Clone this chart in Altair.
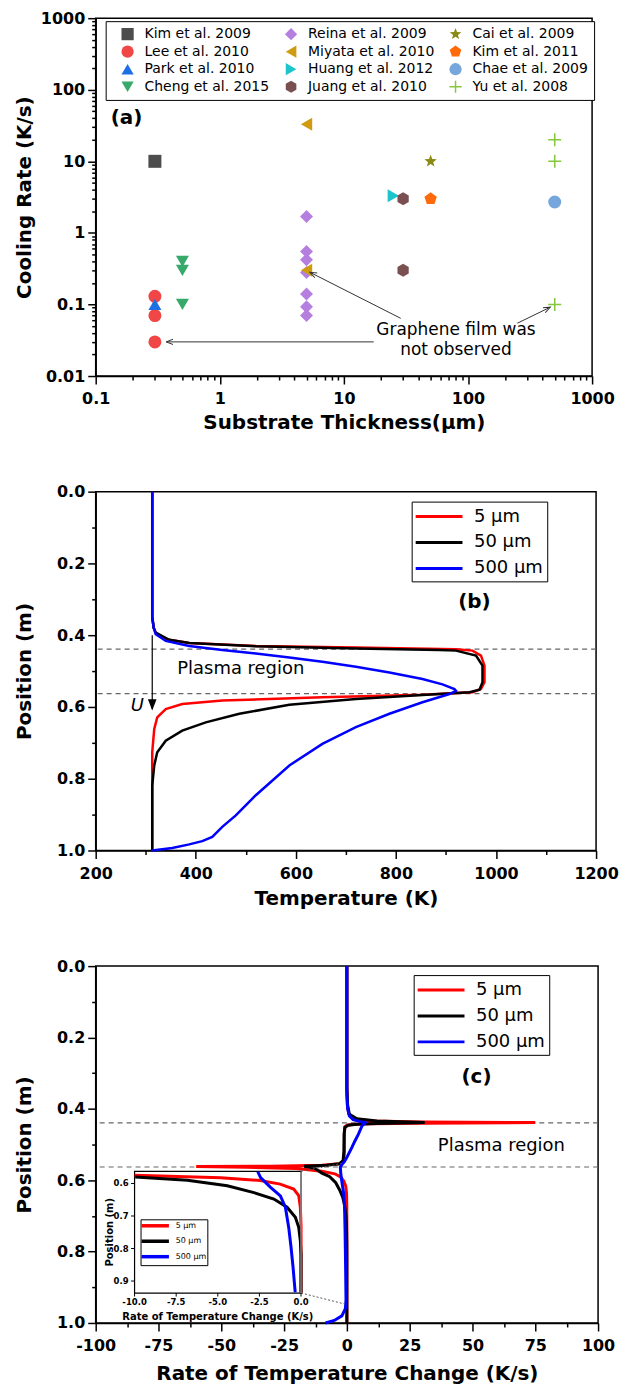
import math
import altair as alt
import pandas as pd

FONT = "DejaVu Sans"
FS = "\u2007"   # figure space (digit width) to right-align legend labels
NB = "\u00a0"   # no-break space (half a digit width in DejaVu Sans)

# ===================== Panel (a) data =====================
study_names = ["Kim et al. 2009", "Lee et al. 2010", "Park et al. 2010", "Cheng et al. 2015",
               "Reina et al. 2009", "Miyata et al. 2010", "Huang et al. 2012", "Juang et al. 2010",
               "Cai et al. 2009", "Kim et al. 2011", "Chae et al. 2009", "Yu et al. 2008"]
study_thickness = [[0.3], [0.3, 0.3, 0.3], [0.3], [0.5, 0.5, 0.5],
                   [5, 5, 5, 5, 5, 5, 5], [5, 5], [25], [30, 30],
                   [50], [50], [500], [500, 500, 500]]
study_rate = [[10], [0.13, 0.07, 0.03], [0.1], [0.4, 0.3, 0.1],
              [1.7, 0.55, 0.42, 0.28, 0.14, 0.093, 0.07], [33, 0.3], [3.3], [3.0, 0.3],
              [10], [3.0], [2.7], [20, 10, 0.1]]
study_colors = ["#4d4d4d", "#f04646", "#1f6fe5", "#36a96b", "#b57fe0", "#cf9b10",
                "#1cc5cc", "#7a4f50", "#8a8a14", "#ff6a0a", "#75a6dc", "#86c83c"]


def poly_path(n, r_out, r_in=None, rot=-90):
    pts = []
    k = n * 2 if r_in else n
    for i in range(k):
        r = r_out if (r_in is None or i % 2 == 0) else r_in
        a = math.radians(rot + 360.0 * i / k)
        pts.append(f"{r * math.cos(a):.3f},{r * math.sin(a):.3f}")
    return "M" + "L".join(pts) + "Z"


STAR = poly_path(5, 1.0, 0.42)
PENTAGON = poly_path(5, 1.0)
HEXAGON = poly_path(6, 1.0)
PLUS = "M-1,-0.12L1,-0.12L1,0.12L-1,0.12Z M-0.12,-1L0.12,-1L0.12,1L-0.12,1Z"
study_shapes = ["square", "circle", "triangle-up", "triangle-down", "diamond", "triangle-left",
                "triangle-right", HEXAGON, STAR, PENTAGON, "circle", PLUS]

note_text = ["Graphene film was", "not observed"]
note_x = [80, 80]
note_y = [0.044, 0.0232]
arrow_x0 = [17.4, 28.7, 250]
arrow_y0 = [0.03, 0.064, 0.0547]
arrow_x1 = [0.37, 5.33, 460]
arrow_y1 = [0.03, 0.281, 0.0915]
arrow_angle = [270, 297, 64]

# ===================== Panel (b) data =====================
series = [FS + FS + "5 μm", FS + "50 μm", "500 μm"]
series_inset = [NB * 4 + "5 μm", NB * 2 + "50 μm", "500 μm"]
series_colors = ["#ff0000", "#000000", "#0000ff"]

b_red_T = [313, 313, 316, 320, 340, 387, 520, 720, 920, 953, 970, 977, 977, 970, 953, 853, 653,
           453, 373, 340, 323, 317, 313, 313]
b_red_pos = [0.0, 0.35, 0.38, 0.393, 0.411, 0.422, 0.43, 0.434, 0.439, 0.443, 0.457, 0.485, 0.531,
             0.55, 0.559, 0.566, 0.573, 0.582, 0.592, 0.606, 0.629, 0.661, 0.726, 1.0]
b_black_T = [313, 313, 316, 320, 347, 387, 520, 720, 887, 920, 960, 973, 973, 967, 947, 853, 720,
             587, 487, 420, 373, 340, 323, 317, 313, 313]
b_black_pos = [0.0, 0.35, 0.38, 0.393, 0.413, 0.422, 0.431, 0.437, 0.441, 0.443, 0.457, 0.485,
               0.531, 0.552, 0.559, 0.567, 0.578, 0.594, 0.619, 0.643, 0.666, 0.694, 0.726, 0.763,
               0.819, 1.0]
b_blue_T = [313, 313, 316, 320, 340, 387, 453, 520, 587, 653, 720, 787, 853, 893, 917, 920, 907,
            853, 787, 720, 653, 587, 520, 480, 453, 433, 413, 387, 353, 313]
b_blue_pos = [0.0, 0.35, 0.38, 0.397, 0.416, 0.43, 0.441, 0.451, 0.462, 0.474, 0.488, 0.504, 0.522,
              0.537, 0.55, 0.555, 0.564, 0.587, 0.619, 0.656, 0.703, 0.763, 0.846, 0.902, 0.934,
              0.962, 0.974, 0.983, 0.993, 1.0]

plasma_bounds = [0.439, 0.563]

# ===================== Panel (c) data =====================
c_red_rate = [0, 0, 0.2, 0.8, 3, 10, 30, 75, 30, 8, 2, 0, -0.8, -1, -1, -1.2, -3, -10, -30, -60,
              -40, -20, -10, -4.83, -2.45, -1.25, -0.44, -0.14, -0.04, 0, 0, 0, 0]
c_red_pos = [0.0, 0.34, 0.39, 0.415, 0.428, 0.434, 0.437, 0.4385, 0.44, 0.442, 0.444, 0.446, 0.45,
             0.47, 0.52, 0.545, 0.554, 0.558, 0.5605, 0.5615, 0.5635, 0.567, 0.575, 0.582, 0.591,
             0.602, 0.617, 0.637, 0.673, 0.73, 0.9, 0.936, 1.0]
c_black_rate = [0, 0, 0.3, 1, 4, 12, 31, 12, 4, 0.5, -0.8, -1.1, -1.2, -1.5, -3, -8, -17, -13,
                -9.96, -6.83, -4.43, -2.83, -1.63, -0.84, -0.34, -0.14, -0.04, 0, 0, 0, 0]
c_black_pos = [0.0, 0.34, 0.39, 0.415, 0.428, 0.434, 0.438, 0.441, 0.443, 0.446, 0.452, 0.47,
               0.52, 0.545, 0.554, 0.558, 0.561, 0.566, 0.58, 0.59, 0.607, 0.628, 0.648, 0.673,
               0.704, 0.735, 0.776, 0.82, 0.9, 0.936, 1.0]
c_blue_rate = [0, 0, 0.3, 1, 2.5, 5, 7.3, 6, 4.6, 3.2, 2.0, 1, 0, -1, -2, -2.6, -2.43, -1.83,
               -1.24, -0.94, -0.74, -0.6, -0.48, -0.35, -0.6, -2, -5, -8.5]
c_blue_pos = [0.0, 0.36, 0.4, 0.42, 0.43, 0.435, 0.4385, 0.448, 0.471, 0.49, 0.508, 0.522, 0.536,
              0.548, 0.556, 0.5635, 0.582, 0.612, 0.638, 0.673, 0.735, 0.796, 0.857, 0.935, 0.96,
              0.98, 0.993, 1.0]

inset_xlim = [-10, 0]
inset_ylim = [0.563, 0.937]
inset_xticks = [-10, -7.5, -5, -2.5, 0]
inset_xtick_labels = ["-10.0", "-7.5", "-5.0", "-2.5", "0.0"]
inset_yticks = [0.6, 0.7, 0.8, 0.9]
inset_ytick_labels = ["0.6", "0.7", "0.8", "0.9"]

# connector lines between inset and main plot (main coordinates)
conn_x0 = [-18.25, -18.25]
conn_y0 = [0.916, 0.575]
conn_x1 = [-0.8, -2.0]
conn_y1 = [0.947, 0.553]

# ===================== Layout constants =====================
W_A, H_A = 498, 359
W_B, H_B = 502, 360
W_C, H_C = 504, 358
INSET_PX = (137 - 98, 304 - 98, 1174 - 968, 1296 - 968)  # x0, x1, y0, y1 inside panel (c)
MAJOR_TICK, MINOR_TICK = 8, 4
YTITLE_X = -71
LINE_SYMBOL = "M-2.5,0L2.5,0"
LINE_SYMBOL_SMALL = "M-4,0L4,0"


def minor_axis(orient, values):
    return alt.Axis(orient=orient, values=values, labels=False, domain=False, title=None,
                    tickSize=MINOR_TICK, grid=False)


# ===================== Panel (a) =====================
rows = []
for name, ts, rs in zip(study_names, study_thickness, study_rate):
    for t, r in zip(ts, rs):
        rows.append({"study": name, "thickness": t, "rate": r})
df_a = pd.DataFrame(rows)


def log_minor(e0, e1):
    return [round(k * 10 ** e, 6) for e in range(e0, e1) for k in range(2, 10)]


sx_a = alt.Scale(type="log", domain=[0.1, 1000], nice=False)
sy_a = alt.Scale(type="log", domain=[0.01, 1000], nice=False)
axis_xa = alt.Axis(orient="bottom", values=[0.1, 1, 10, 100, 1000], format="~g",
                   tickSize=MAJOR_TICK, labelFlush=False, labelOverlap=False,
                   title="Substrate Thickness(μm)", titleY=47, titleBaseline="middle")
axis_ya = alt.Axis(orient="left", values=[0.01, 0.1, 1, 10, 100, 1000], format="~g",
                   tickSize=MAJOR_TICK, labelFlush=False, labelOverlap=False,
                   title="Cooling Rate (K/s)", titleX=YTITLE_X, titleY=H_A / 2,
                   titleBaseline="middle")

legend_a = alt.Legend(title=None, orient="none", legendX=10, legendY=3, columns=3,
                      strokeColor="black", fillColor="white", padding=6,
                      labelFont=FONT, labelFontSize=14, labelColor="black",
                      symbolOffset=9, labelOffset=10,
                      symbolSize=150, rowPadding=3.6, columnPadding=5, labelLimit=300)

points_a = alt.Chart(df_a).mark_point(filled=True, size=170, opacity=1).encode(
    x=alt.X("thickness:Q", scale=sx_a, axis=axis_xa),
    y=alt.Y("rate:Q", scale=sy_a, axis=axis_ya),
    color=alt.Color("study:N", scale=alt.Scale(domain=study_names, range=study_colors), legend=legend_a),
    shape=alt.Shape("study:N", scale=alt.Scale(domain=study_names, range=study_shapes), legend=legend_a),
)
minor_a = alt.Chart(df_a).mark_point(opacity=0).encode(
    x=alt.X("thickness:Q", scale=sx_a, axis=minor_axis("bottom", log_minor(-1, 3))),
    y=alt.Y("rate:Q", scale=sy_a, axis=minor_axis("left", log_minor(-2, 3))))

df_arrow = pd.DataFrame({"x0": arrow_x0, "y0": arrow_y0, "x1": arrow_x1, "y1": arrow_y1,
                         "ang": arrow_angle})
arrow_lines = alt.Chart(df_arrow).mark_rule(color="#333333", strokeWidth=1).encode(
    x=alt.X("x0:Q", scale=sx_a, axis=None), y=alt.Y("y0:Q", scale=sy_a, axis=None),
    x2="x1:Q", y2="y1:Q")
arrow_heads = alt.Chart(df_arrow).mark_point(
    shape="M-0.5,1.3L0,0L0.5,1.3", filled=False, size=110, color="#333333", strokeWidth=1,
    opacity=1).encode(
    x=alt.X("x1:Q", scale=sx_a, axis=None), y=alt.Y("y1:Q", scale=sy_a, axis=None),
    angle=alt.Angle("ang:Q", scale=None))

df_note = pd.DataFrame({"x": note_x, "y": note_y, "t": note_text})
notes_a = alt.Chart(df_note).mark_text(fontSize=17, color="black").encode(
    x=alt.X("x:Q", scale=sx_a, axis=None), y=alt.Y("y:Q", scale=sy_a, axis=None), text="t:N")

label_a = alt.Chart(pd.DataFrame({"x": [0.177], "y": [40], "t": ["(a)"]})).mark_text(
    fontSize=20, fontWeight="bold", color="black").encode(
    x=alt.X("x:Q", scale=sx_a, axis=None), y=alt.Y("y:Q", scale=sy_a, axis=None), text="t:N")

panel_a = alt.layer(points_a, minor_a, arrow_lines, arrow_heads, notes_a, label_a).resolve_axis(
    x="independent", y="independent").properties(width=W_A, height=H_A)


# ===================== Panel (b) =====================
def series_df(xs, ys, name, xname, field="series"):
    return pd.DataFrame({xname: xs, "pos": ys, field: name, "idx": list(range(len(xs)))})


def line_legend(x, y):
    return alt.Legend(title=None, orient="none", legendX=x, legendY=y, strokeColor="black",
                      fillColor="white", padding=4, symbolType=LINE_SYMBOL, symbolSize=353,
                      symbolStrokeWidth=3, symbolOffset=12.5, labelOffset=24,
                      labelFont=FONT, labelFontSize=18, labelColor="black", rowPadding=6)


sx_b = alt.Scale(domain=[200, 1200], nice=False)
sy_b = alt.Scale(domain=[0, 1], reverse=True, nice=False)
axis_xb = alt.Axis(orient="bottom", values=list(range(200, 1201, 200)), format="d",
                   tickSize=MAJOR_TICK, labelFlush=False, labelOverlap=False,
                   title="Temperature (K)", titleY=48, titleBaseline="middle")
axis_yb = alt.Axis(orient="left", values=[i / 10 for i in range(0, 11, 2)], format=".1f",
                   tickSize=MAJOR_TICK, labelFlush=False, labelOverlap=False,
                   title="Position (m)", titleX=YTITLE_X, titleY=H_B / 2, titleBaseline="middle")

color_b = alt.Color("series:N", scale=alt.Scale(domain=series, range=series_colors),
                    legend=line_legend(317, 10))

df_plasma = pd.DataFrame({"pos": plasma_bounds})
dash_b = alt.Chart(df_plasma).mark_rule(strokeDash=[5, 4], color="#666666", strokeWidth=1.2).encode(
    y=alt.Y("pos:Q", scale=sy_b, axis=axis_yb))

df_b_red = series_df(b_red_T, b_red_pos, series[0], "T")
lines_b = []
for xs, ys, name in [(b_red_T, b_red_pos, series[0]), (b_black_T, b_black_pos, series[1]),
                     (b_blue_T, b_blue_pos, series[2])]:
    lines_b.append(alt.Chart(series_df(xs, ys, name, "T")).mark_line(strokeWidth=2.5).encode(
        x=alt.X("T:Q", scale=sx_b, axis=axis_xb if name == series[0] else None),
        y=alt.Y("pos:Q", scale=sy_b, axis=None),
        order="idx:Q", color=color_b))
minor_b = alt.Chart(df_b_red).mark_point(opacity=0).encode(
    x=alt.X("T:Q", scale=sx_b, axis=minor_axis("bottom", list(range(300, 1200, 200)))),
    y=alt.Y("pos:Q", scale=sy_b, axis=minor_axis("left", [i / 10 for i in range(1, 10, 2)])))

u_arrow = alt.Chart(pd.DataFrame({"T": [313], "p0": [0.40], "p1": [0.606]})).mark_rule(
    color="black", strokeWidth=1.2).encode(
    x=alt.X("T:Q", scale=sx_b, axis=None), y=alt.Y("p0:Q", scale=sy_b, axis=None), y2="p1:Q")
u_head = alt.Chart(pd.DataFrame({"T": [313], "p": [0.610]})).mark_point(
    shape="M-0.5,-1.3L0,0L0.5,-1.3Z", filled=True, size=300, color="black", opacity=1).encode(
    x=alt.X("T:Q", scale=sx_b, axis=None), y=alt.Y("p:Q", scale=sy_b, axis=None))
u_text = alt.Chart(pd.DataFrame({"T": [283], "p": [0.598], "t": ["U"]})).mark_text(
    fontSize=18, fontStyle="italic", color="black").encode(
    x=alt.X("T:Q", scale=sx_b, axis=None), y=alt.Y("p:Q", scale=sy_b, axis=None), text="t:N")
text_b = alt.Chart(pd.DataFrame({"T": [490], "p": [0.494], "t": ["Plasma region"]})).mark_text(
    fontSize=18, color="black").encode(
    x=alt.X("T:Q", scale=sx_b, axis=None), y=alt.Y("p:Q", scale=sy_b, axis=None), text="t:N")
label_b = alt.Chart(pd.DataFrame({"T": [957], "p": [0.308], "t": ["(b)"]})).mark_text(
    fontSize=20, fontWeight="bold", color="black").encode(
    x=alt.X("T:Q", scale=sx_b, axis=None), y=alt.Y("p:Q", scale=sy_b, axis=None), text="t:N")

panel_b = alt.layer(dash_b, *lines_b, minor_b, u_arrow, u_head, u_text, text_b, label_b
                    ).resolve_axis(x="independent", y="independent").properties(
    width=W_B, height=H_B)

# ===================== Panel (c) =====================
sx_c = alt.Scale(domain=[-100, 100], nice=False)
sy_c = alt.Scale(domain=[0, 1], reverse=True, nice=False)
axis_xc = alt.Axis(orient="bottom", values=list(range(-100, 101, 25)), format="d",
                   labelExpr="replace(datum.label, '\u2212', '-')",
                   tickSize=MAJOR_TICK, labelFlush=False, labelOverlap=False,
                   title="Rate of Temperature Change (K/s)", titleY=51, titleBaseline="middle")
axis_yc = alt.Axis(orient="left", values=[i / 10 for i in range(0, 11, 2)], format=".1f",
                   tickSize=MAJOR_TICK, labelFlush=False, labelOverlap=False,
                   title="Position (m)", titleX=YTITLE_X, titleY=H_C / 2, titleBaseline="middle")

color_c = alt.Color("series:N", scale=alt.Scale(domain=series, range=series_colors),
                    legend=line_legend(319, 9))

dash_c = alt.Chart(df_plasma).mark_rule(strokeDash=[5, 4], color="#666666", strokeWidth=1.2).encode(
    y=alt.Y("pos:Q", scale=sy_c, axis=axis_yc))

c_series = [(c_red_rate, c_red_pos, 0), (c_black_rate, c_black_pos, 1),
            (c_blue_rate, c_blue_pos, 2)]
lines_c = []
for xs, ys, k in c_series:
    lines_c.append(alt.Chart(series_df(xs, ys, series[k], "rate")).mark_line(strokeWidth=3).encode(
        x=alt.X("rate:Q", scale=sx_c, axis=axis_xc if k == 0 else None),
        y=alt.Y("pos:Q", scale=sy_c, axis=None),
        order="idx:Q", color=color_c))
minor_c = alt.Chart(series_df(c_red_rate, c_red_pos, series[0], "rate")).mark_point(opacity=0).encode(
    x=alt.X("rate:Q", scale=sx_c, axis=minor_axis("bottom", [-87.5 + 25 * i for i in range(8)])),
    y=alt.Y("pos:Q", scale=sy_c, axis=minor_axis("left", [i / 10 for i in range(1, 10, 2)])))

df_conn = pd.DataFrame({"x0": conn_x0, "y0": conn_y0, "x1": conn_x1, "y1": conn_y1})
conn_c = alt.Chart(df_conn).mark_rule(strokeDash=[2, 2], color="#555555", strokeWidth=1).encode(
    x=alt.X("x0:Q", scale=sx_c, axis=None), y=alt.Y("y0:Q", scale=sy_c, axis=None),
    x2="x1:Q", y2="y1:Q")

text_c = alt.Chart(pd.DataFrame({"x": [61.5], "p": [0.503], "t": ["Plasma region"]})).mark_text(
    fontSize=18, color="black").encode(
    x=alt.X("x:Q", scale=sx_c, axis=None), y=alt.Y("p:Q", scale=sy_c, axis=None), text="t:N")
label_c = alt.Chart(pd.DataFrame({"x": [51.6], "p": [0.31], "t": ["(c)"]})).mark_text(
    fontSize=20, fontWeight="bold", color="black").encode(
    x=alt.X("x:Q", scale=sx_c, axis=None), y=alt.Y("p:Q", scale=sy_c, axis=None), text="t:N")

main_c = alt.layer(dash_c, *lines_c, minor_c, conn_c, text_c, label_c).resolve_axis(
    x="independent", y="independent")

# ---- inset (its own scales, mapped onto the inset box) ----
ix0, ix1, iy0, iy1 = INSET_PX
ppx = (ix1 - ix0) / (inset_xlim[1] - inset_xlim[0])
xd0 = inset_xlim[0] - ix0 / ppx
xd1 = xd0 + W_C / ppx
ppy = (iy1 - iy0) / (inset_ylim[1] - inset_ylim[0])
yd0 = inset_ylim[0] - iy0 / ppy
yd1 = yd0 + H_C / ppy
sx_i = alt.Scale(domain=[xd0, xd1], nice=False, zero=False)
sy_i = alt.Scale(domain=[yd0, yd1], reverse=True, nice=False, zero=False)


def ix(field):
    return alt.X(field, scale=sx_i, axis=None)


def iy(field):
    return alt.Y(field, scale=sy_i, axis=None)


frame_i = alt.Chart(pd.DataFrame({"x0": [inset_xlim[0]], "x1": [inset_xlim[1]],
                                  "y0": [inset_ylim[0]], "y1": [inset_ylim[1]]})).mark_rect(
    fill="white", stroke="black", strokeWidth=1.2).encode(
    x=ix("x0:Q"), x2="x1:Q", y=iy("y0:Q"), y2="y1:Q")
edge_i = alt.Chart(pd.DataFrame({"x": [inset_xlim[1]], "y0": [inset_ylim[0]],
                                 "y1": [inset_ylim[1]]})).mark_rule(
    color="#888888", strokeWidth=1.5).encode(x=ix("x:Q"), y=iy("y0:Q"), y2="y1:Q")

df_ixt = pd.DataFrame({"v": inset_xticks, "lab": inset_xtick_labels, "b": inset_ylim[1]})
df_iyt = pd.DataFrame({"v": inset_yticks, "lab": inset_ytick_labels, "b": inset_xlim[0]})
xticks_i = alt.Chart(df_ixt).mark_point(shape="M0,0L0,1", filled=False, size=49, strokeWidth=1,
                                        color="black", opacity=1).encode(x=ix("v:Q"), y=iy("b:Q"))
xlabels_i = alt.Chart(df_ixt).mark_text(fontSize=8.5, fontWeight="bold", baseline="top", dy=5,
                                        color="black").encode(x=ix("v:Q"), y=iy("b:Q"), text="lab:N")
yticks_i = alt.Chart(df_iyt).mark_point(shape="M-1,0L0,0", filled=False, size=49, strokeWidth=1,
                                        color="black", opacity=1).encode(x=ix("b:Q"), y=iy("v:Q"))
ylabels_i = alt.Chart(df_iyt).mark_text(fontSize=8.5, fontWeight="bold", align="right",
                                        baseline="middle", dx=-6, color="black").encode(
    x=ix("b:Q"), y=iy("v:Q"), text="lab:N")

legend_i = alt.Legend(title=None, orient="none", legendX=45, legendY=254, strokeColor="black",
                      fillColor="white", padding=1, symbolType=LINE_SYMBOL_SMALL, symbolSize=47,
                      symbolStrokeWidth=3.5, symbolOffset=8.25, labelOffset=15,
                      labelFont=FONT, labelFontSize=8, labelColor="black", rowPadding=0.5)
stroke_i = alt.Stroke("series_i:N", scale=alt.Scale(domain=series_inset, range=series_colors),
                      legend=legend_i)
lines_i = []
for xs, ys, k in c_series:
    lines_i.append(alt.Chart(series_df(xs, ys, series_inset[k], "rate", "series_i")).transform_filter(
        f"datum.rate >= {inset_xlim[0] - 0.05} && datum.rate <= {inset_xlim[1] + 0.05} && "
        f"datum.pos >= {inset_ylim[0] + 0.0004} && datum.pos <= {inset_ylim[1]}").mark_line(
        strokeWidth=3).encode(x=ix("rate:Q"), y=iy("pos:Q"), order="idx:Q", stroke=stroke_i))

titles_i = alt.Chart(pd.DataFrame({"x": [-5.0], "p": [1.012],
                                   "t": ["Rate of Temperature Change (K/s)"]})).mark_text(
    fontSize=10, fontWeight="bold", color="black").encode(x=ix("x:Q"), y=iy("p:Q"), text="t:N")
ytitle_i = alt.Chart(pd.DataFrame({"x": [-11.45], "p": [0.75], "t": ["Position (m)"]})).mark_text(
    fontSize=10, fontWeight="bold", color="black", angle=270).encode(
    x=ix("x:Q"), y=iy("p:Q"), text="t:N")

inset_c = alt.layer(frame_i, *lines_i, edge_i, xticks_i, yticks_i, xlabels_i, ylabels_i,
                    titles_i, ytitle_i)

panel_c = alt.layer(main_c, inset_c).resolve_scale(x="independent", y="independent").resolve_axis(
    x="independent", y="independent").properties(width=W_C, height=H_C)

# ===================== Assemble =====================
chart = alt.vconcat(panel_a, panel_b, panel_c, spacing=116, bounds="flush").resolve_scale(
    color="independent", shape="independent", stroke="independent").resolve_legend(
    color="independent", shape="independent", stroke="independent").properties(
    padding={"left": 14, "top": 7, "right": 0, "bottom": 0}
).configure(font=FONT).configure_view(stroke="black", strokeWidth=1.5).configure_axis(
    labelFont=FONT, labelFontSize=16, labelFontWeight="bold", labelColor="black",
    titleFont=FONT, titleFontSize=20, titleFontWeight="bold", titleColor="black",
    domainColor="black", domainWidth=1.5, tickColor="black", tickWidth=1.5, grid=False
).configure_axisX(labelPadding=7).configure_axisY(labelPadding=3)

chart.save("out.html", embed_options={"renderer": "svg", "actions": False})
